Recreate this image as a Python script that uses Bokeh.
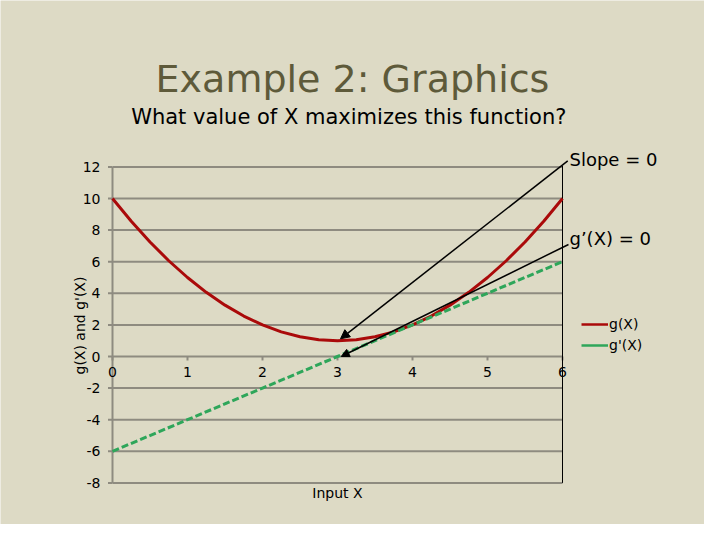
from bokeh.plotting import figure
from bokeh.models import Range1d, Arrow, NormalHead, Legend, LegendItem
from bokeh.core.properties import value
from bokeh.embed import file_html
from bokeh.resources import INLINE

# values
x_vals = [0, 0.25, 0.5, 0.75, 1, 1.25, 1.5, 1.75, 2, 2.25, 2.5, 2.75, 3,
          3.25, 3.5, 3.75, 4, 4.25, 4.5, 4.75, 5, 5.25, 5.5, 5.75, 6]
g_vals = [10, 8.56, 7.25, 6.06, 5, 4.06, 3.25, 2.56, 2, 1.56, 1.25, 1.06, 1,
          1.06, 1.25, 1.56, 2, 2.56, 3.25, 4.06, 5, 6.06, 7.25, 8.56, 10]
xd_vals = [0, 1, 2, 3, 4, 5, 6]
gd_vals = [-6, -4, -2, 0, 2, 4, 6]

x_ticks = [0, 1, 2, 3, 4, 5, 6]
y_ticks = [-8, -6, -4, -2, 0, 2, 4, 6, 8, 10, 12]

BG = "#DDDAC5"
GRID = "#8E8B80"
RED = "#AA0A0A"
GREEN = "#2EA65A"
FONT = "DejaVu Sans"

# 75 px per x unit, 15.8 px per y unit; frame fills the whole canvas
p = figure(width=704, height=524, output_backend="svg", toolbar_location=None,
           x_range=Range1d(-112 / 75, 592 / 75),
           y_range=Range1d(-168 / 15.8, 356 / 15.8),
           x_axis_location=None, y_axis_location=None, min_border=0)
p.grid.visible = False
p.outline_line_color = None
p.background_fill_color = BG
p.border_fill_color = BG

xmin, xmax = x_ticks[0], x_ticks[-1]
ymin, ymax = y_ticks[0], y_ticks[-1]

# gridlines
p.segment(x0=[xmin] * len(y_ticks), x1=[xmax] * len(y_ticks), y0=y_ticks, y1=y_ticks,
          line_color=GRID, line_width=2)
# y axis line and ticks
p.segment(x0=[xmin], x1=[xmin], y0=[ymin], y1=[ymax], line_color=GRID, line_width=2)
p.segment(x0=[xmin - 0.06] * len(y_ticks), x1=[xmin] * len(y_ticks), y0=y_ticks, y1=y_ticks,
          line_color=GRID, line_width=2)
# x ticks on the zero line
p.segment(x0=x_ticks, x1=x_ticks, y0=[0] * len(x_ticks), y1=[-0.25] * len(x_ticks),
          line_color=GRID, line_width=2)
# right border
p.segment(x0=[xmax], x1=[xmax], y0=[ymin], y1=[ymax + 0.06], line_color="black", line_width=1)

# tick labels
p.text(x=[xmin - 0.16] * len(y_ticks), y=y_ticks, text=[str(t) for t in y_ticks],
       text_font=value(FONT), text_font_size="14px", text_align="right",
       text_baseline="middle", text_color="black")
p.text(x=x_ticks, y=[-1.0] * len(x_ticks), text=[str(t) for t in x_ticks],
       text_font=value(FONT), text_font_size="14px", text_align="center",
       text_baseline="middle", text_color="black")
p.text(x=[-0.43], y=[1.96], text=["g(X) and g'(X)"], angle=1.5708,
       text_font=value(FONT), text_font_size="14px", text_align="center",
       text_baseline="middle", text_color="black")
p.text(x=[3.0], y=[-8.61], text=["Input X"],
       text_font=value(FONT), text_font_size="14px", text_align="center",
       text_baseline="middle", text_color="black")

# series
p.line(x_vals, g_vals, line_color=RED, line_width=3)
p.line(xd_vals, gd_vals, line_color=GREEN, line_width=3, line_dash="7 3")

# legend swatches are plain solid lines (renderers that draw nothing themselves)
nan = float("nan")
leg_g = p.line([nan], [nan], line_color=RED, line_width=2.5)
leg_gd = p.line([nan], [nan], line_color=GREEN, line_width=2.5)
legend = Legend(items=[LegendItem(label="g(X)", renderers=[leg_g]),
                       LegendItem(label="g'(X)", renderers=[leg_gd])],
                location=(581, 169), orientation="vertical",
                background_fill_alpha=0, border_line_color=None,
                padding=0, margin=0, spacing=1, glyph_width=27, glyph_height=20,
                label_standoff=1, label_text_font=FONT, label_text_font_size="14px",
                label_text_color="black", label_height=20)
p.add_layout(legend)

# titles
p.text(x=[3.2], y=[17.59], text=["Example 2: Graphics"],
       text_font=value(FONT), text_font_size="38px", text_align="center",
       text_baseline="middle", text_color="#5E5A3A")
p.text(x=[3.15], y=[15.13], text=["What value of X maximizes this function?"],
       text_font=value(FONT), text_font_size="21px", text_align="center",
       text_baseline="middle", text_color="black")

# annotations
p.text(x=[6.093], y=[12.5], text=["Slope = 0"],
       text_font=value(FONT), text_font_size="18px", text_align="left",
       text_baseline="middle", text_color="black")
p.text(x=[6.093], y=[7.47], text=["g\u2019(X) = 0"],
       text_font=value(FONT), text_font_size="18px", text_align="left",
       text_baseline="middle", text_color="black")
p.add_layout(Arrow(x_start=6.07, y_start=12.38, x_end=3.04, y_end=1.12,
                   line_color="black", line_width=1.5,
                   end=NormalHead(size=9, fill_color="black", line_color="black")))
p.add_layout(Arrow(x_start=6.08, y_start=7.09, x_end=3.05, y_end=0.0,
                   line_color="black", line_width=1.5,
                   end=NormalHead(size=8, fill_color="black", line_color="black")))

open("out.html", "w").write(file_html(p, INLINE))
